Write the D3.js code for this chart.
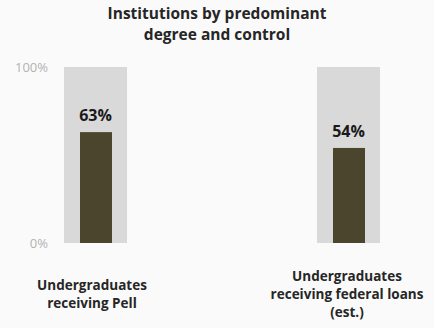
<!DOCTYPE html>
<html>
<head>
<meta charset="utf-8">
<script src="https://cdn.jsdelivr.net/npm/d3@7"></script>
<style>
  body { margin: 0; background: #fafafa; }
  svg { display: block; font-family: "Open Sans", sans-serif; }
</style>
</head>
<body>
<svg id="chart" style="width:434px;height:328px"></svg>
<script>
var categories = [
    ["Undergraduates", "receiving Pell"],
    ["Undergraduates", "receiving federal loans", "(est.)"]
];
var values = [0.63, 0.54];
var valueLabels = ["63%", "54%"];
var tickValues = [0, 1];
var titleLines = ["Institutions by predominant", "degree and control"];

var svg = d3.select("#chart");
var width = parseFloat(svg.node().style.width);
var height = parseFloat(svg.node().style.height);

var xScale = d3.scalePoint()
    .domain(d3.range(values.length))
    .range([96, 349]);

var yScale = d3.scaleLinear()
    .domain([0, 1])
    .range([243, 67]);

// title
svg.append("g").selectAll("text")
    .data(titleLines)
    .enter()
    .append("text")
    .attr("x", width / 2)
    .attr("y", function(d, i){ return 19 + i * 21; })
    .attr("text-anchor", "middle")
    .attr("font-weight", "bold")
    .attr("font-size", "15.5px")
    .attr("fill", "#262626")
    .text(function(d){ return d; });

// y axis labels only
svg.append("g").selectAll("text")
    .data(tickValues)
    .enter()
    .append("text")
    .attr("x", 48)
    .attr("y", function(d){ return yScale(d); })
    .attr("dy", "0.42em")
    .attr("text-anchor", "end")
    .attr("font-size", "13px")
    .attr("fill", "#b3b3b3")
    .text(d3.format(".0%"));

var bars = svg.append("g").selectAll("g")
    .data(values)
    .enter()
    .append("g");

// full-scale background bar
bars.append("rect")
    .attr("x", function(d, i){ return xScale(i) - 32; })
    .attr("width", 63)
    .attr("y", yScale(1))
    .attr("height", yScale(0) - yScale(1))
    .attr("fill", "#d9d9d9");

bars.append("rect")
    .attr("x", function(d, i){ return xScale(i) - 16; })
    .attr("width", 32)
    .attr("y", function(d){ return yScale(d); })
    .attr("height", function(d){ return yScale(0) - yScale(d); })
    .attr("fill", "#4b452d");

bars.append("text")
    .attr("x", function(d, i){ return xScale(i) - 0.5; })
    .attr("y", function(d){ return yScale(d) - 11; })
    .attr("text-anchor", "middle")
    .attr("font-weight", "bold")
    .attr("font-size", "16px")
    .attr("fill", "#1a1a1a")
    .text(function(d, i){ return valueLabels[i]; });

// category labels, centred vertically around the same line
var lineH = 18;
svg.append("g").selectAll("text")
    .data(categories)
    .enter()
    .append("text")
    .attr("text-anchor", "middle")
    .attr("font-weight", "bold")
    .attr("font-size", "13.5px")
    .attr("fill", "#262626")
    .each(function(lines, i){
        var t = d3.select(this);
        var y0 = 298.5 - (lines.length - 1) * lineH / 2;
        lines.forEach(function(l, j){
            t.append("tspan")
                .attr("x", xScale(i) - (i === 0 ? 4 : 2))
                .attr("y", y0 + j * lineH)
                .text(l);
        });
    });
</script>
</body>
</html>
